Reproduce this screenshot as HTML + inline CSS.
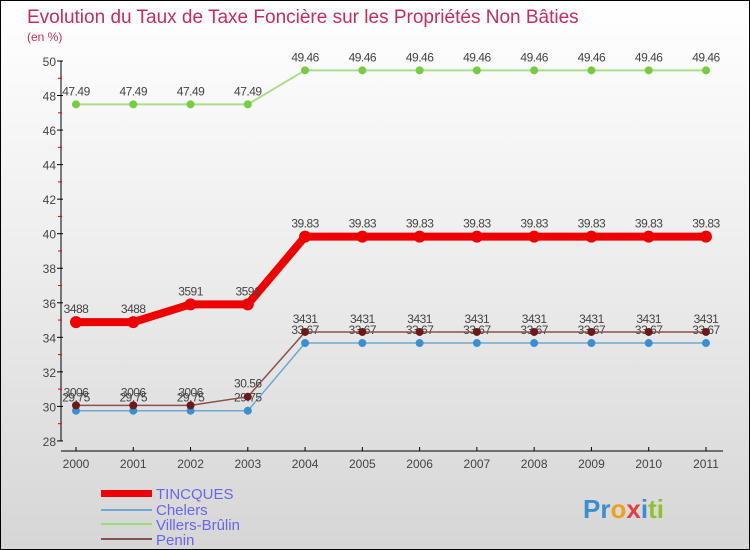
<!DOCTYPE html>
<html><head><meta charset="utf-8"><style>
body{margin:0}
#c{width:748px;height:548px;border:1px solid #000;background:linear-gradient(#fff 0%,#f0f0f0 40%,#d6d6d6 100%);position:relative;font-family:"Liberation Sans",sans-serif;overflow:hidden}
text{font-family:"Liberation Sans",sans-serif}
</style></head><body>
<div id="c">
<svg id="s" width="748" height="548">
<text x="26" y="22" font-size="19" fill="#c0305a">Evolution du Taux de Taxe Foncière sur les Propriétés Non Bâties</text>
<text x="26" y="40" font-size="12" fill="#c0305a">(en %)</text>
<g id="ax"></g><g id="ser"></g>
<g>
<rect x="100" y="489" width="51" height="7" fill="#e00"/>
<text x="155" y="498" font-size="15" fill="#6666ee">TINCQUES</text>
<rect x="100" y="508" width="51" height="2" fill="#6fa8d0"/>
<text x="155" y="514" font-size="15" fill="#6666ee">Chelers</text>
<rect x="100" y="522" width="51" height="2" fill="#99dd77"/>
<text x="155" y="529" font-size="15" fill="#6666ee">Villers-Brûlin</text>
<rect x="100" y="537" width="51" height="2" fill="#8a5050"/>
<text x="155" y="544" font-size="15" fill="#6666ee">Penin</text>
</g>
<text x="582" y="517" font-size="26" font-weight="bold"><tspan fill="#3a8fd0">Pr</tspan><tspan fill="#f0a020">o</tspan><tspan fill="#e04040">x</tspan><tspan fill="#3a8fd0">i</tspan><tspan fill="#90c030">ti</tspan></text>
</svg></div>
<script>
const years=["2000","2001","2002","2003","2004","2005","2006","2007","2008","2009","2010","2011"];
const tincques=[34.88,34.88,35.91,35.91,39.83,39.83,39.83,39.83,39.83,39.83,39.83,39.83];
const chelers=[29.75,29.75,29.75,29.75,33.67,33.67,33.67,33.67,33.67,33.67,33.67,33.67];
const villers=[47.49,47.49,47.49,47.49,49.46,49.46,49.46,49.46,49.46,49.46,49.46,49.46];
const penin=[30.06,30.06,30.06,30.56,34.31,34.31,34.31,34.31,34.31,34.31,34.31,34.31];
const tincquesLabels=["3488","3488","3591","3591","39.83","39.83","39.83","39.83","39.83","39.83","39.83","39.83"];
const chelersLabels=["29.75","29.75","29.75","29.75","33.67","33.67","33.67","33.67","33.67","33.67","33.67","33.67"];
const villersLabels=["47.49","47.49","47.49","47.49","49.46","49.46","49.46","49.46","49.46","49.46","49.46","49.46"];
const peninLabels=["3006","3006","3006","30.56","3431","3431","3431","3431","3431","3431","3431","3431"];
const yTicks=[28,30,32,34,36,38,40,42,44,46,48,50];
const NS="http://www.w3.org/2000/svg";
const X=i=>75+i*57.27, Y=v=>60+(50-v)*17.27;
function mk(p,t,a){const e=document.createElementNS(NS,t);for(const k in a)e.setAttribute(k,a[k]);p.appendChild(e);return e;}
const ax=document.getElementById('ax'),ser=document.getElementById('ser');
let l=mk(ax,'line',{x1:60,y1:60,x2:60,y2:440,stroke:'#000'});

l=mk(ax,'line',{x1:60,y1:450,x2:722,y2:450,stroke:'#000'});

yTicks.forEach(v=>{mk(ax,'line',{x1:56,y1:Y(v),x2:62,y2:Y(v),stroke:'#000'});
 if(v<50)mk(ax,'line',{x1:57,y1:Y(v+1),x2:61,y2:Y(v+1),stroke:'#e00'});
 const t=mk(ax,'text',{x:55,y:Y(v)+5,'font-size':12,fill:'#444','text-anchor':'end'});t.textContent=v;
 });
years.forEach((y,i)=>{mk(ax,'line',{x1:X(i),y1:446,x2:X(i),y2:450,stroke:'#000'});
 const t=mk(ax,'text',{x:X(i),y:467,'font-size':12,fill:'#444','text-anchor':'middle'});t.textContent=y;
 });
function series(name,vals,labels,col,w,r,dot){
 const g=mk(ser,'g',{});
 mk(g,'polyline',{points:vals.map((v,i)=>X(i)+','+Y(v)).join(' '),fill:'none',stroke:col,'stroke-width':w});
 vals.forEach((v,i)=>{const c=mk(g,'circle',{cx:X(i),cy:Y(v),r:r,fill:dot});
  
  const t=mk(g,'text',{x:X(i),y:Y(v)-9,'font-size':12,fill:'#444','text-anchor':'middle','letter-spacing':'-0.5'});
  t.textContent=labels[i];
  });
}
series('villers',villers,villersLabels,'#a8e08a',2,4,'#77cc44');
series('chelers',chelers,chelersLabels,'#6fa8d0',1.5,4,'#3a8fd0');
series('penin',penin,peninLabels,'#8a5050',1.5,4,'#6a1a1a');
series('tincques',tincques,tincquesLabels,'#ee0000',8,6,'#ee0000');
</script>
</body></html>
